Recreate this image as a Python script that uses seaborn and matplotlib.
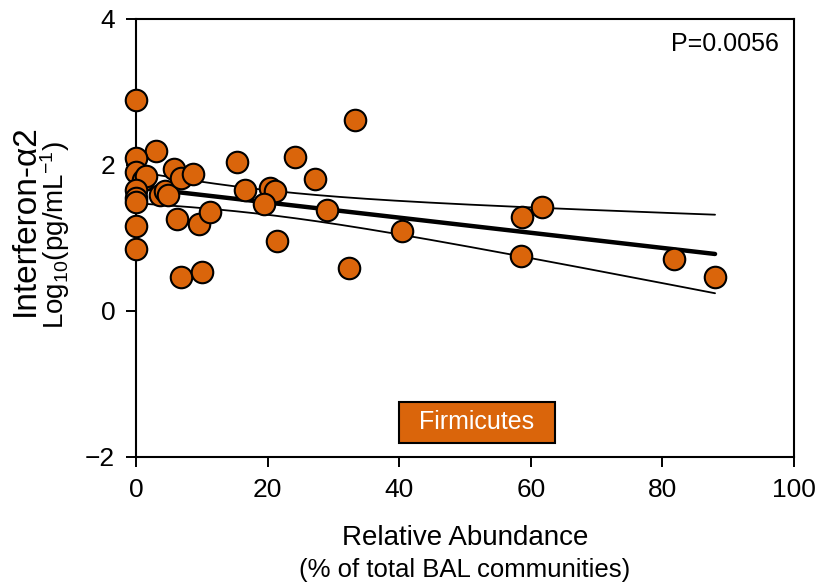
import numpy as np
import pandas as pd
import matplotlib
matplotlib.use("Agg")
import matplotlib.pyplot as plt
import seaborn as sns
from matplotlib.patches import Rectangle

# ---- data ----
abundance = [0, 3.1, 0, 0, 1.1, 1.5, 0, 0, 0, 3.6, 4.4, 4.9, 5.7, 6.8, 8.7,
             6.2, 9.6, 11.2, 0, 0, 15.3, 24.2, 33.3, 27.2, 16.6, 20.4, 21.1,
             19.5, 29.0, 6.8, 10.0, 21.5, 32.3, 40.4, 58.7, 61.7, 58.5, 81.7, 88.0]
ifn_log = [2.89, 2.19, 2.10, 1.91, 1.80, 1.85, 1.66, 1.55, 1.50, 1.59, 1.64,
           1.59, 1.95, 1.82, 1.87, 1.26, 1.19, 1.36, 1.16, 0.85, 2.04, 2.11,
           2.62, 1.81, 1.66, 1.69, 1.64, 1.47, 1.39, 0.47, 0.53, 0.96, 0.59,
           1.10, 1.29, 1.42, 0.75, 0.71, 0.47]
x_ticks = [0, 20, 40, 60, 80, 100]
y_ticks = [-2, 0, 2, 4]
p_label = "P=0.0056"
phylum = "Firmicutes"

df = pd.DataFrame({"abundance": abundance, "ifn": ifn_log})

sns.set_theme(style="ticks")
plt.rcParams["font.family"] = ["Liberation Sans", "DejaVu Sans"]
plt.rcParams["mathtext.fontset"] = "custom"
plt.rcParams["mathtext.rm"] = "Liberation Sans"
plt.rcParams["mathtext.it"] = "Liberation Sans"
plt.rcParams["text.color"] = "black"
plt.rcParams["axes.labelcolor"] = "black"

fig = plt.figure(figsize=(8.21, 5.85), dpi=100)
ax = fig.add_axes([136 / 821, 1 - 457 / 585, 658 / 821, 438 / 585])

orange = "#DA650B"

# regression line and 95% confidence band of the mean
x = df["abundance"].to_numpy()
y = df["ifn"].to_numpy()
n = len(x)
slope, intercept = np.polyfit(x, y, 1)
xs = np.linspace(x.min(), x.max(), 200)
fit = intercept + slope * xs
resid = y - (intercept + slope * x)
s = np.sqrt(np.sum(resid ** 2) / (n - 2))
sxx = np.sum((x - x.mean()) ** 2)
tval = 2.026
half = tval * s * np.sqrt(1 / n + (xs - x.mean()) ** 2 / sxx)

sns.lineplot(x=xs, y=fit, ax=ax, color="black", lw=3.2, zorder=2)
sns.lineplot(x=xs, y=fit + half, ax=ax, color="black", lw=1.3, zorder=2)
sns.lineplot(x=xs, y=fit - half, ax=ax, color="black", lw=1.3, zorder=2)

sns.scatterplot(data=df, x="abundance", y="ifn", ax=ax, s=240, color=orange,
                edgecolor="black", linewidth=1.5, zorder=3, clip_on=False)

ax.set_xlim(0, 100)
ax.set_ylim(-2, 4)
ax.set_xticks(x_ticks)
ax.set_yticks(y_ticks)
ax.set_yticklabels(["\u22122" if t < 0 else str(t) for t in y_ticks])
ax.tick_params(direction="out", length=7, width=1.4, labelsize=19, pad=8,
               colors="black", labelcolor="black")
for sp in ax.spines.values():
    sp.set_linewidth(1.5)
    sp.set_color("black")
ax.set_xlabel("")
ax.set_ylabel("")

ax.text(0.977, 0.943, p_label, transform=ax.transAxes, ha="right", va="center",
        fontsize=18, color="black")

ax.add_patch(Rectangle((0.400, 0.032), 0.237, 0.094, transform=ax.transAxes,
                       facecolor=orange, edgecolor="black", lw=1.5, zorder=4))
ax.text(0.518, 0.079, phylum, transform=ax.transAxes, ha="center", va="center",
        fontsize=18, color="white", zorder=5)

fig.text(465 / 821, 1 - 538 / 585, "Relative Abundance", ha="center", va="center",
         fontsize=20, color="black")
fig.text(465 / 821, 1 - 570 / 585, "(% of total BAL communities)", ha="center",
         va="center", fontsize=18.5, color="black")
fig.text(25 / 821, 1 - 220 / 585, "Interferon-\u03b12", rotation=90, ha="center",
         va="center", fontsize=24, color="black")
fig.text(55 / 821, 1 - 235 / 585, r"Log$_{10}$(pg/mL$^{-1}$)", rotation=90,
         ha="center", va="center", fontsize=20, color="black")

fig.savefig("out.png", dpi=100)
